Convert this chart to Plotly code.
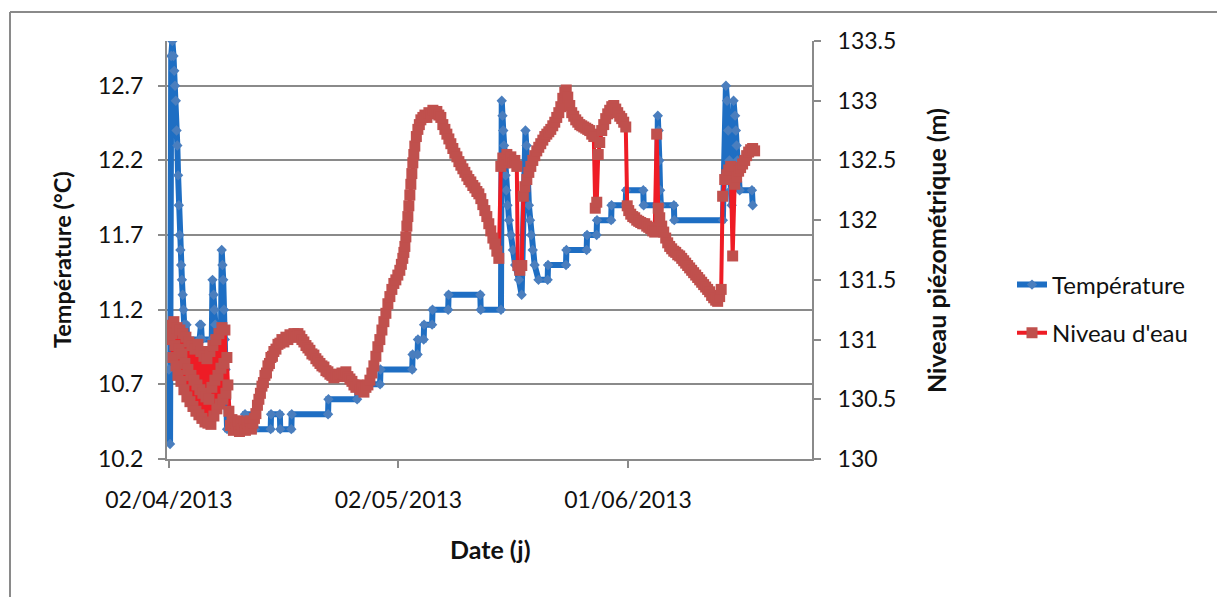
import pandas as pd
import plotly.graph_objects as go

# ---- data -------------------------------------------------------------
START = pd.Timestamp("2013-04-02")

# Temperature (°C): time in days since 02/04/2013, and value
temp_days = [
    0.00, 0.15, 0.30, 0.45, 0.60, 0.70, 0.80, 0.90, 1.00, 1.10, 1.20, 1.30,
    1.40, 1.50, 1.60, 1.70, 1.80, 1.90, 2.00, 2.30, 2.40, 4.00, 4.05, 4.20,
    4.30, 5.60, 5.70, 5.85, 5.95, 6.05, 6.20, 6.80, 6.90, 7.00, 7.10, 7.20,
    7.30, 7.40, 7.50, 7.60, 9.90, 9.95, 11.20, 11.25, 13.30, 13.35, 14.50,
    14.55, 16.00, 16.05, 20.80, 20.85, 24.60, 24.65, 27.60, 27.65, 31.80,
    31.85, 32.50, 32.55, 33.30, 33.35, 34.40, 34.45, 36.50, 36.55, 40.70,
    40.75, 43.40, 43.50, 43.60, 43.70, 43.80, 43.90, 44.00, 44.10, 44.25,
    44.45, 44.70, 44.95, 45.25, 45.75, 46.10, 46.60, 46.75, 46.90, 47.05,
    47.20, 47.35, 47.55, 47.80, 48.30, 49.50, 49.55, 51.90, 51.95, 54.60,
    54.65, 55.90, 55.95, 57.80, 57.85, 59.70, 59.75, 62.00, 62.05, 63.80,
    63.90, 64.00, 64.10, 64.20, 64.30, 66.00, 66.05, 72.40, 72.80, 72.95,
    73.10, 73.25, 73.40, 73.55, 73.80, 74.00, 74.10, 74.20, 74.30, 74.40,
    74.60, 76.20, 76.30,
]
temp_vals = [
    10.80, 10.30, 12.90, 13.00, 12.90, 12.80, 12.70, 12.60, 12.40, 12.30, 12.10, 11.90,
    11.70, 11.60, 11.50, 11.40, 11.30, 11.20, 11.10, 11.10, 11.00, 11.00, 11.10, 11.10,
    11.00, 11.00, 11.40, 11.30, 11.20, 11.10, 11.00, 11.00, 11.60, 11.50, 11.40, 11.20,
    11.00, 10.80, 10.60, 10.40, 10.40, 10.50, 10.50, 10.40, 10.40, 10.50, 10.50,
    10.40, 10.40, 10.50, 10.50, 10.60, 10.60, 10.70, 10.70, 10.80, 10.80,
    10.90, 10.90, 11.00, 11.00, 11.10, 11.10, 11.20, 11.20, 11.30, 11.30,
    11.20, 11.20, 12.60, 12.50, 12.40, 12.30, 12.20, 12.10, 12.00, 11.90,
    11.80, 11.70, 11.60, 11.50, 11.40, 11.30, 12.40, 12.30, 12.10, 11.90,
    11.80, 11.70, 11.60, 11.50, 11.40, 11.40, 11.50, 11.50, 11.60, 11.60,
    11.70, 11.70, 11.80, 11.80, 11.90, 11.90, 12.00, 12.00, 11.90, 11.90,
    12.50, 12.40, 12.20, 12.00, 11.90, 11.90, 11.80, 11.80, 12.70, 12.60,
    12.40, 12.20, 12.00, 11.90, 12.60, 12.50, 12.40, 12.30, 12.20, 12.10,
    12.00, 12.00, 11.90,
]

# Water level (m): time in days since 02/04/2013, and value
level_days = [
    # first week, strong short-period oscillations
    0.13, 0.26, 0.39, 0.52, 0.65, 0.78, 0.92, 1.05, 1.18, 1.31, 1.44, 1.57,
    1.70, 1.83, 1.96, 2.09, 2.22, 2.35, 2.48, 2.61, 2.75, 2.88, 3.01, 3.14,
    3.27, 3.40, 3.53, 3.66, 3.79, 3.92, 4.05, 4.18, 4.31, 4.44, 4.58, 4.71,
    4.84, 4.97, 5.10, 5.23, 5.36, 5.49, 5.62, 5.75, 5.88, 6.01, 6.14, 6.27,
    6.41, 6.54, 6.67, 6.80, 6.93, 7.06, 7.19, 7.32, 7.45, 7.58, 7.71,
    # low stand, April bump and rise
    7.84, 8.04, 8.24, 8.43, 8.63, 8.82, 9.02, 9.22, 9.41, 9.61, 9.80, 10.00,
    10.20, 10.39, 10.59, 10.78, 10.98, 11.18, 11.37, 11.57, 11.76, 11.96,
    12.16, 12.35, 12.55, 12.75, 12.94, 13.14, 13.33, 13.53, 13.72, 13.99,
    14.25, 14.51, 14.77, 15.03, 15.29, 15.55, 15.82, 16.08, 16.34, 16.60,
    16.86, 17.12, 17.38, 17.64, 17.91, 18.17, 18.43, 18.69, 18.95, 19.21,
    19.47, 19.74, 20.00, 20.26, 20.52, 20.78, 21.04, 21.30, 21.56, 21.83,
    22.09, 22.35, 22.61, 22.87, 23.13, 23.39, 23.66, 23.92, 24.18, 24.44,
    24.70, 24.96, 25.22, 25.49, 25.75, 26.01, 26.27, 26.53, 26.79, 27.05,
    27.31, 27.57, 27.84, 28.10, 28.36, 28.62, 28.88, 29.14, 29.40, 29.66,
    29.92, 30.18, 30.38, 30.57, 30.71, 30.84, 30.97, 31.10, 31.23, 31.36,
    31.49, 31.62, 31.75, 31.88, 32.01, 32.14, 32.34, 32.54, 32.73, 32.93,
    33.19, 33.46, 33.72, 33.98, 34.24, 34.50, 34.76, 35.02, 35.28, 35.54,
    35.80, 36.07, 36.33, 36.59, 36.85, 37.11, 37.37, 37.64, 37.90, 38.16,
    38.42, 38.68, 38.94, 39.20, 39.46, 39.72, 39.99, 40.25, 40.51, 40.77,
    41.03, 41.29, 41.55, 41.81, 42.07, 42.34, 42.60, 42.86, 43.12,
    # May-June events
    43.38, 43.64, 43.90, 44.17, 44.43, 44.69, 44.95, 45.21, 45.47, 45.60,
    45.86, 46.12, 46.32, 46.52, 46.78, 47.04, 47.30, 47.56, 47.82, 48.08,
    48.34, 48.60, 48.87, 49.13, 49.39, 49.65, 49.91, 50.17, 50.43, 50.69,
    50.96, 51.22, 51.48, 51.74, 51.93, 52.13, 52.39, 52.65, 52.91, 53.17,
    53.44, 53.70, 53.96, 54.22, 54.48, 54.74, 55.00, 55.26, 55.53, 55.72,
    55.92, 56.11, 56.31, 56.57, 56.83, 57.09, 57.35, 57.61, 57.88, 58.14,
    58.40, 58.66, 58.92, 59.18, 59.44, 59.71, 59.90, 60.10, 60.36, 60.62,
    60.88, 61.14, 61.40, 61.66, 61.92, 62.19, 62.45, 62.71, 62.97, 63.23,
    63.49, 63.75, 63.95, 64.15, 64.41, 64.67, 64.93, 65.19, 65.45, 65.71,
    65.98, 66.24, 66.50, 66.76, 67.02, 67.28, 67.54, 67.80, 68.06, 68.32,
    68.58, 68.85, 69.11, 69.37, 69.63, 69.89, 70.15, 70.41, 70.67, 70.93,
    71.20, 71.46, 71.72, 71.98, 72.18, 72.37, 72.64, 72.90, 73.16, 73.42,
    73.68, 73.94, 74.20, 74.46, 74.72, 74.98, 75.25, 75.51, 75.77, 76.03,
    76.29, 76.55,
]
level_vals = [
    131.00, 131.12, 131.05, 130.85, 131.15, 130.95, 130.78, 131.10, 130.70, 130.92, 131.08, 130.65,
    130.88, 131.05, 130.58, 130.80, 131.02, 130.52, 130.75, 130.98, 130.48, 130.70, 130.95, 130.44,
    130.66, 130.92, 130.40, 130.62, 130.96, 130.37, 130.58, 130.90, 130.34, 130.55, 130.86, 130.31,
    130.52, 130.84, 130.30, 130.50, 130.90, 130.29, 130.60, 130.95, 130.36, 130.66, 131.00, 130.42,
    130.70, 131.05, 130.46, 130.76, 131.10, 130.50, 130.80, 131.08, 130.55, 130.85, 130.62,
    130.40, 130.28, 130.33, 130.24, 130.30, 130.26, 130.32, 130.23, 130.29, 130.25, 130.31, 130.24,
    130.30, 130.26, 130.32, 130.25, 130.30, 130.34, 130.38, 130.45, 130.50, 130.55,
    130.61, 130.64, 130.70, 130.72, 130.78, 130.80, 130.85, 130.86, 130.90, 130.92,
    130.96, 130.97, 131.00, 130.98, 131.02, 131.00, 131.04, 131.02, 131.05, 131.02,
    131.05, 131.03, 131.00, 130.98, 130.95, 130.93, 130.91, 130.88, 130.87, 130.84,
    130.82, 130.80, 130.78, 130.77, 130.74, 130.73, 130.71, 130.70, 130.68, 130.70,
    130.69, 130.71, 130.72, 130.71, 130.73, 130.69, 130.67, 130.65, 130.62, 130.60,
    130.62, 130.58, 130.60, 130.56, 130.60, 130.62, 130.66, 130.72, 130.78, 130.86,
    130.94, 131.00, 131.08, 131.15, 131.22, 131.30, 131.36, 131.42, 131.47, 131.50,
    131.54, 131.58, 131.63, 131.68, 131.73, 131.78, 131.86, 131.95, 132.03, 132.12,
    132.21, 132.30, 132.39, 132.48, 132.55, 132.62, 132.70, 132.76, 132.80, 132.84,
    132.86, 132.88, 132.86, 132.90, 132.89, 132.92, 132.90, 132.91, 132.88, 132.86,
    132.80, 132.76, 132.72, 132.68, 132.64, 132.60, 132.56, 132.53, 132.49, 132.46,
    132.43, 132.40, 132.37, 132.34, 132.32, 132.29, 132.27, 132.24, 132.22, 132.18,
    132.13, 132.08, 132.03, 131.97, 131.91, 131.85, 131.80, 131.74, 131.68,
    132.45, 132.52, 132.48, 132.55, 132.50, 132.53, 132.48, 132.50, 132.45, 131.62,
    131.58, 131.62, 132.20, 132.28, 132.34, 132.40, 132.45, 132.50, 132.54, 132.58,
    132.61, 132.64, 132.67, 132.70, 132.72, 132.74, 132.76, 132.79, 132.82, 132.86,
    132.90, 132.95, 133.02, 133.07, 133.09, 133.03, 132.96, 132.90, 132.87, 132.84,
    132.82, 132.80, 132.79, 132.78, 132.77, 132.76, 132.75, 132.72, 132.70, 132.10,
    132.15, 132.55, 132.65, 132.75, 132.80, 132.85, 132.89, 132.92, 132.95, 132.96,
    132.93, 132.90, 132.87, 132.85, 132.82, 132.78, 132.12, 132.08, 132.05, 132.03,
    132.02, 132.00, 131.99, 131.98, 131.97, 131.97, 131.95, 131.94, 131.93, 131.91,
    131.90, 132.72, 132.10, 132.02, 131.95, 131.90, 131.85, 131.81, 131.78, 131.76,
    131.74, 131.73, 131.71, 131.70, 131.68, 131.66, 131.64, 131.62, 131.60, 131.58,
    131.56, 131.54, 131.52, 131.50, 131.48, 131.46, 131.44, 131.42, 131.40, 131.37,
    131.35, 131.33, 131.32, 131.36, 131.42, 132.20, 132.34, 132.38, 132.42, 132.45,
    131.70, 132.30, 132.36, 132.41, 132.44, 132.47, 132.50, 132.54, 132.57, 132.59,
    132.60, 132.58,
]

temp_ticks = [10.2, 10.7, 11.2, 11.7, 12.2, 12.7]
level_ticks = [130, 130.5, 131, 131.5, 132, 132.5, 133, 133.5]
level_tick_text = ["130", "130.5", "131", "131.5", "132", "132.5", "133", "133.5"]
date_ticks = ["2013-04-02", "2013-05-02", "2013-06-01"]
date_tick_text = ["02/04/2013", "02/05/2013", "01/06/2013"]

# ---- figure -----------------------------------------------------------
def to_dates(days):
    return START + pd.to_timedelta(days, unit="D")

FONT = "Lato"
GRAY = "#8A8A8A"
TXT = "#111111"

fig = go.Figure()
fig.add_trace(go.Scatter(
    x=to_dates(temp_days), y=temp_vals, name="Température",
    mode="lines+markers", legendgroup="t",
    line=dict(color="#1E6EC3", width=6),
    marker=dict(symbol="diamond", size=8, color="#4A7EBE"),
))
fig.add_trace(go.Scatter(
    x=to_dates(level_days), y=level_vals, name="Niveau d'eau",
    mode="lines+markers", yaxis="y2", legendgroup="n",
    line=dict(color="#EE1C25", width=4),
    marker=dict(symbol="square", size=11, color="#C0504D"),
))

L, R, T, B = 167, 405, 41, 138
PW, PH = 1217 - L - R, 597 - T - B


def px(x):
    return (x - L) / PW


def py(y):
    return (597 - B - y) / PH


axis_common = dict(
    showline=True, linecolor=GRAY, linewidth=2,
    ticks="outside", ticklen=7, tickwidth=2, tickcolor=GRAY,
    tickfont=dict(family=FONT, size=23, color=TXT),
    zeroline=False,
)


def title_font(size):
    return dict(family=FONT, size=size, color=TXT)


fig.update_layout(
    width=1217, height=597,
    margin=dict(l=L, r=R, t=T, b=B, pad=0),
    paper_bgcolor="white", plot_bgcolor="white",
    showlegend=True,
    legend=dict(
        x=px(1012), y=py(309), xanchor="left", yanchor="middle",
        font=dict(family=FONT, size=24, color=TXT),
        tracegroupgap=14, bgcolor="rgba(0,0,0,0)",
    ),
    xaxis=dict(
        type="date",
        range=[START - pd.Timedelta(hours=6), START + pd.Timedelta(days=84.05)],
        tickvals=date_ticks, ticktext=date_tick_text,
        showgrid=False, ticklabelstandoff=12,
        **axis_common,
    ),
    yaxis=dict(
        range=[10.2, 13.0], tickvals=temp_ticks,
        ticktext=[f"{v:.1f}" for v in temp_ticks],
        showgrid=True, gridcolor=GRAY, gridwidth=2,
        ticklabelstandoff=10,
        **axis_common,
    ),
    yaxis2=dict(
        range=[130, 133.5], tickvals=level_ticks, ticktext=level_tick_text,
        overlaying="y", side="right", showgrid=False,
        ticklabelstandoff=12,
        **axis_common,
    ),
    annotations=[
        dict(text="<b>Température (°C)</b>", x=px(62), y=py(259),
             xref="paper", yref="paper", showarrow=False, textangle=-90,
             xanchor="center", yanchor="middle", font=title_font(23.5)),
        dict(text="<b>Niveau piézométrique (m)</b>", x=px(936), y=py(251),
             xref="paper", yref="paper", showarrow=False, textangle=-90,
             xanchor="center", yanchor="middle", font=title_font(25)),
        dict(text="<b>Date (j)</b>", x=px(490), y=py(549),
             xref="paper", yref="paper", showarrow=False,
             xanchor="center", yanchor="middle", font=title_font(25)),
    ],
    shapes=[
        dict(type="line", xref="paper", yref="paper",
             x0=px(10), x1=px(10), y0=py(12), y1=py(600),
             line=dict(color=GRAY, width=2)),
        dict(type="line", xref="paper", yref="paper",
             x0=px(10), x1=px(1220), y0=py(12), y1=py(12),
             line=dict(color=GRAY, width=2)),
    ],
)

fig.write_html("out.html")
